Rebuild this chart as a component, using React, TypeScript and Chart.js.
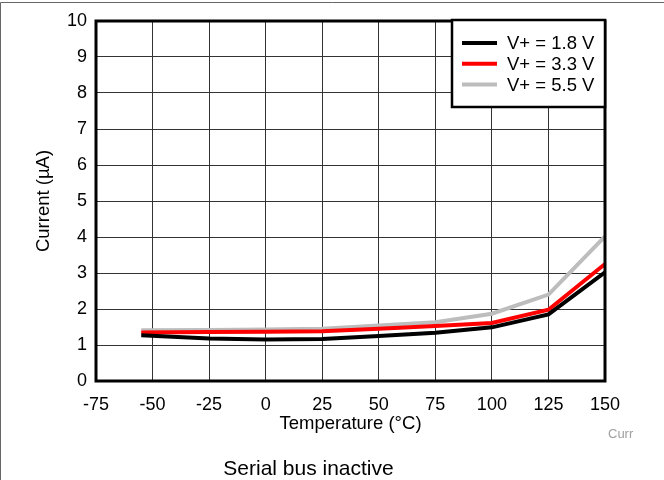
import React, { useEffect, useRef } from "react";
import { Chart, registerables } from "chart.js";

Chart.register(...registerables);

// ---- data ----
const temperatures = [-55, -25, 0, 25, 50, 75, 100, 125, 150];
const current18 = [1.27, 1.18, 1.15, 1.17, 1.25, 1.34, 1.49, 1.85, 3.02];
const current33 = [1.35, 1.36, 1.37, 1.38, 1.45, 1.53, 1.61, 1.98, 3.25];
const current55 = [1.41, 1.42, 1.43, 1.45, 1.54, 1.63, 1.87, 2.4, 4.02];
const seriesLabels = ["V+ = 1.8 V", "V+ = 3.3 V", "V+ = 5.5 V"];
const seriesColors = ["#000000", "#ff0000", "#bdbdbd"];
const xTitle = "Temperature (°C)";
const yTitle = "Current (µA)";
const caption = "Serial bus inactive";
const tag = "Curr";

const FONT = "'Liberation Sans', Arial, Helvetica, sans-serif";

const extrasPlugin = {
  id: "extras",
  beforeDraw(chart: any) {
    const ctx = chart.ctx;
    ctx.save();
    ctx.fillStyle = "#ffffff";
    ctx.fillRect(0, 0, chart.width, chart.height);
    ctx.strokeStyle = "#666666";
    ctx.lineWidth = 1;
    ctx.beginPath();
    ctx.moveTo(0.5, chart.height);
    ctx.lineTo(0.5, 2.5);
    ctx.lineTo(chart.width, 2.5);
    ctx.stroke();
    ctx.restore();
  },
  afterDatasetsDraw(chart: any) {
    const ctx = chart.ctx;
    const a = chart.chartArea;
    ctx.save();
    // plot frame
    ctx.strokeStyle = "#000";
    ctx.lineWidth = 3;
    ctx.strokeRect(a.left, a.top, a.right - a.left, a.bottom - a.top);

    // legend box
    const bw = 153;
    const bh = 87;
    const bx = a.right - bw;
    const by = a.top - 1;
    ctx.fillStyle = "#fff";
    ctx.fillRect(bx, by, bw, bh);
    ctx.lineWidth = 2.5;
    ctx.strokeStyle = "#000";
    ctx.strokeRect(bx, by, bw, bh);
    ctx.font = `18.5px ${FONT}`;
    ctx.textBaseline = "middle";
    ctx.textAlign = "left";
    chart.data.datasets.forEach((ds: any, i: number) => {
      const y = by + 23 + i * 20.8;
      ctx.strokeStyle = ds.borderColor;
      ctx.lineWidth = 4;
      ctx.beginPath();
      ctx.moveTo(bx + 10, y);
      ctx.lineTo(bx + 45, y);
      ctx.stroke();
      ctx.fillStyle = "#000";
      ctx.fillText(ds.label, bx + 55, y + 1);
    });

    // tag and caption
    ctx.fillStyle = "#a0a0a0";
    ctx.font = `13px ${FONT}`;
    ctx.textAlign = "left";
    ctx.textBaseline = "middle";
    ctx.fillText(tag, 608, 434);

    ctx.fillStyle = "#000";
    ctx.font = `21px ${FONT}`;
    ctx.textAlign = "center";
    ctx.textBaseline = "alphabetic";
    ctx.fillText(caption, 308.5, 475);
    ctx.restore();
  },
};

export default function App() {
  const ref = useRef<HTMLCanvasElement | null>(null);

  useEffect(() => {
    if (!ref.current) return;
    const mk = (vals: number[]) => temperatures.map((t, i) => ({ x: t, y: vals[i] }));
    const chart = new Chart(ref.current, {
      type: "line",
      data: {
        datasets: [current18, current33, current55].map((vals, i) => ({
          label: seriesLabels[i],
          data: mk(vals),
          borderColor: seriesColors[i],
          backgroundColor: seriesColors[i],
          borderWidth: 4,
          pointRadius: 0,
          tension: 0,
          fill: false,
        })),
      },
      options: {
        animation: false,
        responsive: false,
        devicePixelRatio: 1,
        layout: { padding: { top: 21, right: 59, left: 0, bottom: 0 } },
        plugins: {
          legend: { display: false },
          tooltip: { enabled: false },
        },
        scales: {
          x: {
            type: "linear",
            min: -75,
            max: 150,
            afterFit: (s: any) => {
              s.height = 99;
            },
            ticks: {
              stepSize: 25,
              padding: 13,
              color: "#000",
              font: { family: FONT, size: 18 },
            },
            grid: { color: "#333", lineWidth: 1, drawTicks: false },
            border: { display: false },
            title: {
              display: true,
              text: xTitle,
              color: "#000",
              font: { family: FONT, size: 18.5 },
              padding: { top: 0, bottom: 45 },
            },
          },
          y: {
            min: 0,
            max: 10,
            afterFit: (s: any) => {
              s.width = 96;
            },
            ticks: {
              stepSize: 1,
              padding: 9,
              color: "#000",
              font: { family: FONT, size: 18 },
            },
            grid: { color: "#333", lineWidth: 1, drawTicks: false },
            border: { display: false },
            title: {
              display: true,
              text: yTitle,
              color: "#000",
              font: { family: FONT, size: 18.5 },
              padding: { top: 33, bottom: 0 },
            },
          },
        },
      },
      plugins: [extrasPlugin],
    });
    return () => chart.destroy();
  }, []);

  return (
    <div style={{ position: "absolute", left: 0, top: 0, width: 664, height: 480, background: "#fff" }}>
      <canvas ref={ref} width={664} height={480} style={{ display: "block" }} />
    </div>
  );
}
